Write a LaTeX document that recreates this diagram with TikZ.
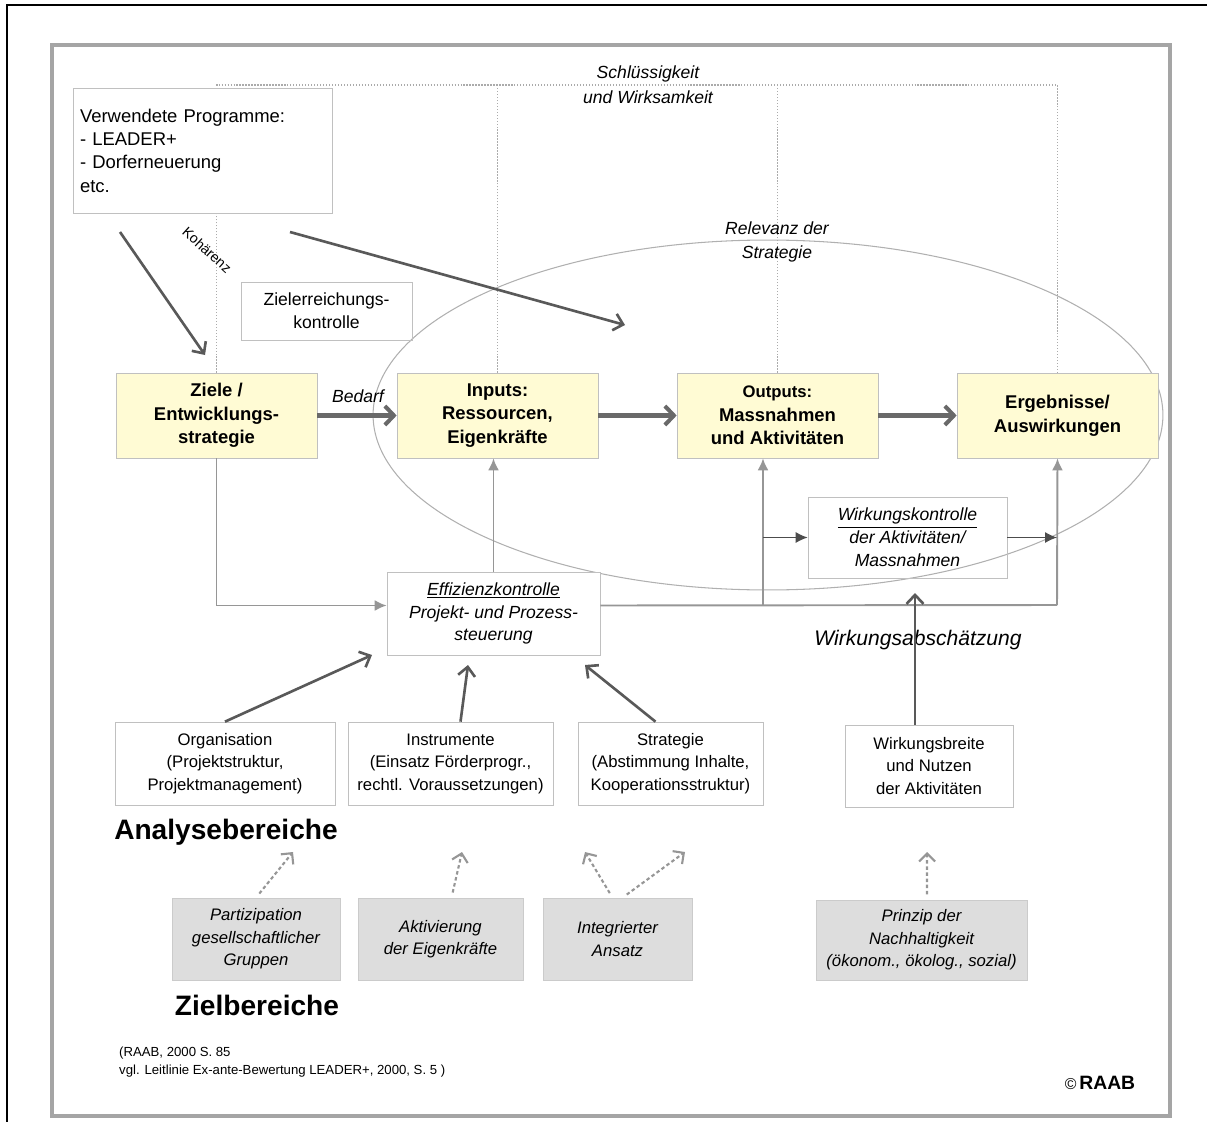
\documentclass[tikz,border=0pt]{standalone}
\usepackage{fontspec}
\setmainfont{Liberation Sans}
\usetikzlibrary{arrows.meta,backgrounds}

\definecolor{boxyellow}{RGB}{255,251,212}
\definecolor{boxgray}{RGB}{221,221,221}
\definecolor{linegray}{RGB}{150,150,150}
\definecolor{arrowgray}{RGB}{105,105,105}
\definecolor{framegray}{RGB}{165,165,165}

\begin{document}
\begin{tikzpicture}[x=0.02cm,y=-0.02cm,
  ybox/.style={draw=linegray!60,fill=boxyellow,minimum width=4.02cm,minimum height=1.7cm,align=center,font=\fontsize{10.5}{13.5}\selectfont\bfseries},
  wbox/.style={draw=linegray!60,align=center,inner sep=1pt,font=\fontsize{9.5}{12.8}\selectfont},
  gbox/.style={draw=linegray!50,fill=boxgray,align=center,inner sep=1pt,minimum height=1.64cm,font=\fontsize{9.5}{12.8}\selectfont\itshape},
  itext/.style={align=center,font=\fontsize{10}{14}\selectfont\itshape},
  bigtitle/.style={font=\fontsize{16}{18}\selectfont\bfseries},
  bigarrow/.style={line width=2.3pt,arrowgray,-{Straight Barb[length=1.8mm,width=3.8mm]}},
  darkarrow/.style={line width=1.5pt,arrowgray!85!black,-{Straight Barb[length=1.8mm,width=3.4mm]}},
  dotarrow/.style={line width=1.2pt,linegray,dash pattern=on 2pt off 1.5pt,shorten <=3pt,-{Straight Barb[length=1.6mm,width=3.2mm]}},
  graylink/.style={line width=1.1pt,linegray},
  thinlink/.style={line width=0.6pt,black!70},
  blacktip/.style={-{Latex[length=2.4mm,width=2.2mm]}},
  dotline/.style={densely dotted,linegray!80,line width=0.7pt}]

\useasboundingbox (0,0) rectangle (1207,1122);

% rahmen
\draw[line width=1.7pt] (7,1122) -- (7,5) -- (1207,5);
\draw[framegray,line width=1.8pt] (52,45) rectangle (1170,1116);

% obere reihe
\node[wbox,fill=white,align=left,minimum width=5.18cm,minimum height=2.5cm,text width=4.9cm,font=\fontsize{10.5}{13.3}\selectfont] (prog) at (202.5,150.5)
  {Verwendete Programme:\\- LEADER+\\- Dorferneuerung\\etc.};
\node[ybox] (ziele) at (216.5,415.5) {Ziele /\\Entwicklungs-\\strategie};
\node[ybox] (inputs) at (497.5,415.5) {Inputs:\\Ressourcen,\\Eigenkräfte};
\node[ybox] (outputs) at (777.5,415.5) {{\fontsize{9.5}{13.5}\selectfont Outputs:}\\Massnahmen\\und Aktivitäten};
\node[ybox] (ergeb) at (1057.5,415.5) {Ergebnisse/\\Auswirkungen};

\node[wbox,minimum width=3.42cm,minimum height=1.16cm,font=\fontsize{10}{13}\selectfont] (zielkontr) at (326.5,311) {Zielerreichungs-\\kontrolle};
\node[wbox,fill=white,minimum width=4.26cm,minimum height=1.66cm,font=\fontsize{10}{13}\selectfont\itshape] (effiz) at (493.5,613.5)
  {\underline{Effizienzkontrolle}\\Projekt- und Prozess-\\steuerung};
\node[wbox,minimum width=3.98cm,minimum height=1.62cm,font=\fontsize{10}{13}\selectfont\itshape] (wirkkontr) at (907.5,537.5)
  {\underline{Wirkungskontrolle}\\der Aktivitäten/\\Massnahmen};

% beschriftungen
\node[itext] (schluessig) at (648,85) {Schlüssigkeit\\und Wirksamkeit};
\node[itext] (relevanz) at (777,242) {Relevanz der\\Strategie};
\node[itext] (bedarf) at (358,396) {Bedarf};
\node[font=\fontsize{8}{9}\selectfont,rotate=-42,inner sep=0pt] (kohaerenz) at (207,250) {Kohärenz};
\node[font=\fontsize{12}{14}\selectfont\itshape] (abschaetz) at (918,640) {Wirkungsabschätzung};

% analysebereiche
\node[wbox,minimum width=4.4cm,minimum height=1.66cm] (org) at (225,763.5) {Organisation\\(Projektstruktur,\\Projektmanagement)};
\node[wbox,minimum width=4.1cm,minimum height=1.66cm] (instr) at (450.5,763.5) {Instrumente\\(Einsatz Förderprogr.,\\rechtl. Voraussetzungen)};
\node[wbox,minimum width=3.7cm,minimum height=1.66cm] (strat) at (670.5,763.5) {Strategie\\(Abstimmung Inhalte,\\Kooperationsstruktur)};
\node[wbox,minimum width=3.36cm,minimum height=1.64cm] (wirkbreite) at (929,766) {Wirkungsbreite\\und Nutzen\\der Aktivitäten};
\node[bigtitle] (analyse) at (226,832) {Analysebereiche};

% zielbereiche
\node[gbox,minimum width=3.36cm] (partiz) at (256,939) {Partizipation\\gesellschaftlicher\\Gruppen};
\node[gbox,minimum width=3.3cm] (aktiv) at (440.5,939) {Aktivierung\\der Eigenkräfte};
\node[gbox,minimum width=2.98cm] (integr) at (617.5,939) {Integrierter\\Ansatz};
\node[gbox,minimum width=4.22cm,minimum height=1.6cm] (prinzip) at (921.5,940) {Prinzip der\\Nachhaltigkeit\\(ökonom., ökolog., sozial)};
\node[bigtitle] (zielber) at (257,1005) {Zielbereiche};

\node[align=left,anchor=west,font=\fontsize{7.5}{10.5}\selectfont] (quelle) at (113,1062)
  {(RAAB, 2000 S. 85\\vgl. Leitlinie Ex-ante-Bewertung LEADER+, 2000, S. 5 )};
\node (copy) at (1100,1083) {{\fontsize{9}{9}\selectfont\textcopyright}\,{\fontsize{11}{13}\selectfont\bfseries RAAB}};

% hintergrund: ellipse und punktierte linien
\begin{scope}[on background layer]
\draw[linegray!75,line width=0.6pt] (768,415) ellipse [x radius=7.9cm, y radius=3.5cm];
\coordinate (top) at (0,85);
\draw[dotline] (ziele.north) -- (ziele.north |- top) -| (ergeb.north);
\draw[dotline] (inputs.north) -- (inputs.north |- top);
\draw[dotline] (outputs.north) -- (outputs.north |- top);
\end{scope}

% hauptpfeile
\draw[bigarrow] (ziele) -- (inputs);
\draw[bigarrow] (inputs) -- (outputs);
\draw[bigarrow] (outputs) -- (ergeb);

\coordinate (p1) at (120,232); \coordinate (p2) at (205,355);
\coordinate (p3) at (290,232); \coordinate (p4) at (625,325);
\draw[darkarrow] (p1) -- (p2);
\draw[darkarrow] (p3) -- (p4);

% rueckkopplung
\coordinate (oa) at (763,605);
\coordinate (eb) at (1057,605);
\draw[graylink,blacktip] (ziele.south) |- ([yshift=0.16cm]effiz.west);
\draw[graylink,blacktip] (effiz.north) -- (effiz.north |- inputs.south);
\draw[graylink] ([yshift=0.16cm]effiz.east) -- (eb);
\draw[graylink,blacktip] (oa) -- (oa |- outputs.south);
\draw[graylink,blacktip] (eb) -- (ergeb.south);
\draw[thinlink,blacktip] (oa |- wirkkontr.west) -- (wirkkontr.west);
\draw[thinlink,blacktip] (wirkkontr.east) -- (eb |- wirkkontr.east);

\coordinate (wa) at (915,593);
\draw[darkarrow] (wirkbreite.north -| wa) -- (wa);

\coordinate (oe) at (372,655);
\coordinate (ie) at (468,665);
\coordinate (se) at (585,665);
\draw[darkarrow] (org.north) -- (oe);
\draw[darkarrow] ([xshift=0.2cm]instr.north) -- (ie);
\draw[darkarrow] ([xshift=-0.3cm]strat.north) -- (se);

% punktierte pfeile
\coordinate (pa) at (293,852);
\coordinate (aa) at (462,852);
\coordinate (ia1) at (585,852);
\coordinate (ia2) at (685,852);
\coordinate (na) at (927,852);
\draw[dotarrow] (partiz.north) -- (pa);
\draw[dotarrow] ([xshift=0.22cm]aktiv.north) -- (aa);
\draw[dotarrow] ([xshift=-0.1cm]integr.north) -- (ia1);
\draw[dotarrow] ([xshift=0.1cm]integr.north) -- (ia2);
\draw[dotarrow] ([xshift=0.11cm]prinzip.north) -- (na);

\end{tikzpicture}
\end{document}
